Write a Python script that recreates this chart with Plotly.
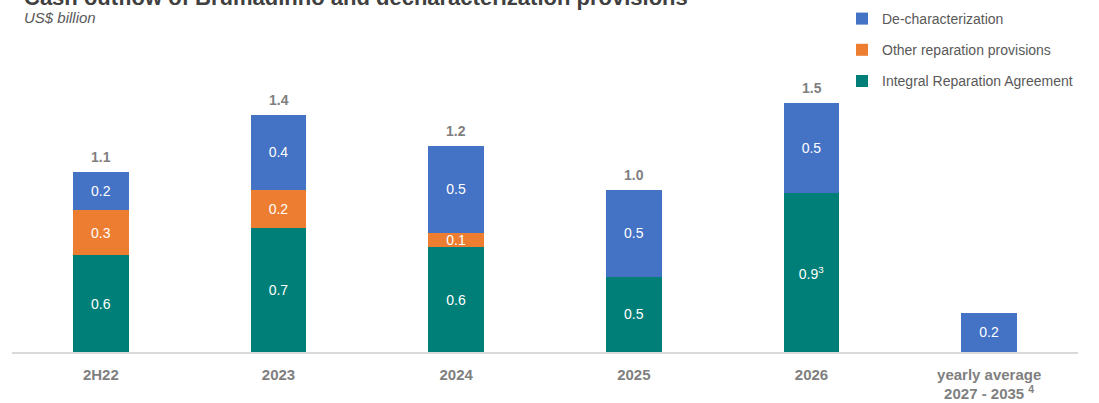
import plotly.graph_objects as go

categories = ["2H22", "2023", "2024", "2025", "2026", "yearly average<br>2027 - 2035 <sup>4</sup>"]
integral = [0.59, 0.76, 0.64, 0.46, 0.97, 0]
other = [0.28, 0.23, 0.09, 0, 0, 0]
dechar = [0.23, 0.46, 0.53, 0.53, 0.55, 0.24]
integral_labels = ["0.6", "0.7", "0.6", "0.5", "0.9<sup>3</sup>", ""]
other_labels = ["0.3", "0.2", "0.1", "", "", ""]
dechar_labels = ["0.2", "0.4", "0.5", "0.5", "0.5", "0.2"]
total_labels = ["1.1", "1.4", "1.2", "1.0", "1.5", ""]

W, H = 1099, 403
ML, MR, MT, MB = 12, 21, 20, 51
PH = H - MT - MB

FONT = "Liberation Sans, Arial, sans-serif"
colors = {"blue": "#4472C4", "orange": "#ED7D31", "teal": "#007F78"}

fig = go.Figure()
for name, vals, labels, col, rank in [
    ("Integral Reparation Agreement", integral, integral_labels, colors["teal"], 3),
    ("Other reparation provisions", other, other_labels, colors["orange"], 2),
    ("De-characterization", dechar, dechar_labels, colors["blue"], 1),
]:
    fig.add_trace(go.Bar(
        x=categories, y=vals, name=name, text=labels,
        textposition="inside", insidetextanchor="middle", textangle=0,
        textfont=dict(color="white", size=14, family=FONT),
        marker=dict(color=col, line=dict(width=0)),
        legendgroup=name, legendrank=rank, hoverinfo="skip",
    ))

totals = [a + b + c for a, b, c in zip(integral, other, dechar)]
for i, (tot, lab) in enumerate(zip(totals, total_labels)):
    if lab:
        fig.add_annotation(x=i, y=tot, text=f"<b>{lab}</b>", showarrow=False,
                           yanchor="bottom", yshift=5,
                           font=dict(size=14, color="#7f7f7f", family=FONT))

# title (partially cut at top) and subtitle
fig.add_annotation(xref="paper", yref="paper", x=(22 - ML) / (W - ML - MR), y=1 + (MT + 3) / PH,
                   text="<b>Cash outflow of Brumadinho and decharacterization provisions</b>",
                   showarrow=False, xanchor="left", yanchor="middle",
                   font=dict(size=22, color="#404040", family=FONT))
fig.add_annotation(xref="paper", yref="paper", x=(22 - ML) / (W - ML - MR), y=1 + (MT - 18) / PH,
                   text="<i>US$ billion</i>", showarrow=False, xanchor="left", yanchor="middle",
                   font=dict(size=15, color="#595959", family=FONT))

fig.update_layout(
    width=W, height=H,
    margin=dict(l=ML, r=MR, t=MT, b=MB, autoexpand=False),
    barmode="stack", bargap=0.685,
    plot_bgcolor="white", paper_bgcolor="white",
    uniformtext=dict(mode="show", minsize=14),
    font=dict(family=FONT),
    showlegend=True,
    legend=dict(
        xref="container", yref="container", x=842 / W, y=1 - 3 / H,
        xanchor="left", yanchor="top", traceorder="grouped",
        tracegroupgap=10, font=dict(size=14, color="#595959", family=FONT),
        bgcolor="rgba(0,0,0,0)",
    ),
    xaxis=dict(type="category", range=[-0.5, len(categories) - 0.5], showgrid=False,
               showline=True, linecolor="#d9d9d9", linewidth=1.5,
               ticks="", ticklabelstandoff=8,
               tickfont=dict(size=15, color="#7f7f7f", family=FONT, weight="bold")),
    yaxis=dict(range=[0, PH / 163.6], visible=False, showgrid=False, zeroline=False),
)

fig.write_html("out.html")
